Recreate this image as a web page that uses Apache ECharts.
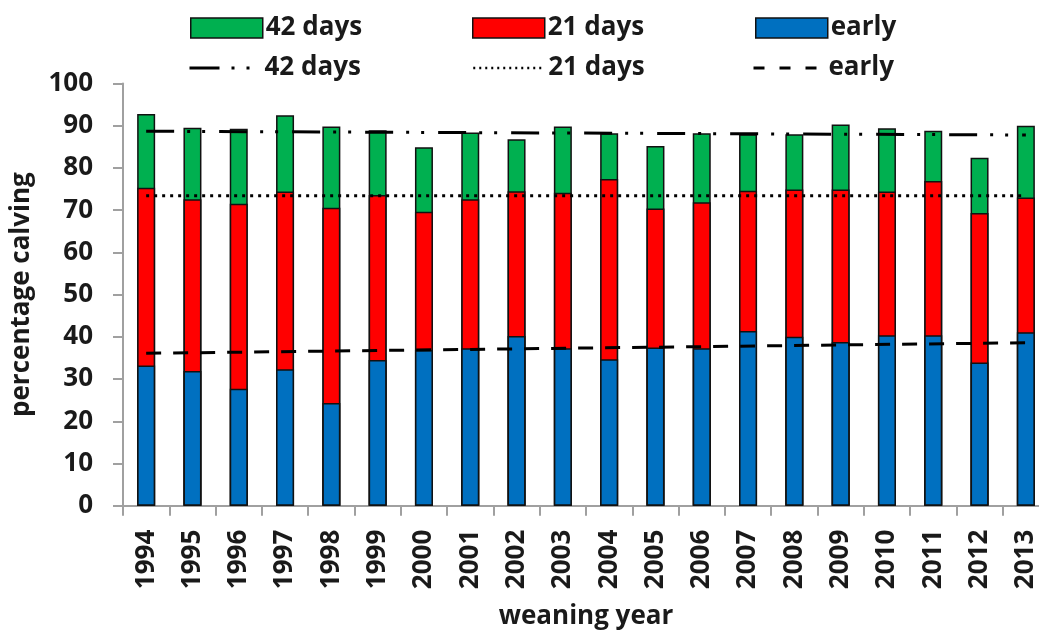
<!DOCTYPE html>
<html>
<head>
<meta charset="utf-8">
<script src="https://cdn.jsdelivr.net/npm/echarts@6/dist/echarts.min.js"></script>
<style>
html,body{margin:0;padding:0;background:#fff;}
#chart{width:1039px;height:631px;}
</style>
</head>
<body>
<div id="chart"></div>
<script>
// Categories (weaning year)
const years = ['1994','1995','1996','1997','1998','1999','2000','2001','2002','2003',
               '2004','2005','2006','2007','2008','2009','2010','2011','2012','2013'];
// Cumulative percentage calving
const early  = [33.2, 31.9, 27.7, 32.3, 24.3, 34.5, 36.9, 37.3, 40.2, 37.3, 34.7, 37.5, 37.3, 41.4, 40.0, 38.8, 40.4, 40.4, 33.9, 41.1];
const days21 = [75.3, 72.6, 71.5, 74.4, 70.6, 73.6, 69.6, 72.6, 74.5, 74.1, 77.4, 70.4, 71.9, 74.6, 74.9, 74.9, 74.4, 76.9, 69.3, 73.0];
const days42 = [92.8, 89.5, 89.3, 92.5, 89.8, 88.9, 84.9, 88.4, 86.8, 89.8, 88.2, 85.2, 88.2, 88.0, 88.0, 90.3, 89.4, 88.8, 82.4, 90.0];
// Linear trend lines: values at first and last year
const trend42    = [88.7, 87.8];
const trend21    = [73.4, 73.4];
const trendEarly = [36.1, 38.6];
const yTicks = [0, 100, 10];

function endpoints(pair) {
  const arr = years.map(() => null);
  arr[0] = pair[0];
  arr[arr.length - 1] = pair[1];
  return arr;
}

const FONT = 'Open Sans';
const txt = {fontFamily: FONT, fontWeight: 'bold', fontSize: 26, color: '#1a1a1a'};
const strip = n => n.replace(' trend', '');
const hiddenSym = {color: 'rgba(0,0,0,0)', borderWidth: 0, borderColor: 'rgba(0,0,0,0)'};

function leg(item, left, top) {
  return {
    left: left, top: top, orient: 'horizontal', itemWidth: 72, itemHeight: 20, itemGap: 0,
    padding: 0, textStyle: Object.assign({}, txt, {padding: [0, 0, 0, -2]}), formatter: strip,
    selectedMode: false, data: [item]
  };
}

const chart = echarts.init(document.getElementById('chart'));
chart.setOption({
  animation: false,
  backgroundColor: '#fff',
  grid: {left: 123, right: -10, top: 83.5, bottom: 125.3, containLabel: false, outerBoundsMode: 'none'},
  legend: [
    leg({name: '42 days', icon: 'rect', itemStyle: {borderColor: '#111', borderWidth: 1.5}}, 190, 15),
    leg({name: '21 days', icon: 'rect', itemStyle: {borderColor: '#111', borderWidth: 1.5}}, 472, 15),
    leg({name: 'early', icon: 'rect', itemStyle: {borderColor: '#111', borderWidth: 1.5}}, 755, 15),
    leg({name: '42 days trend', itemStyle: hiddenSym, lineStyle: {type: [30, 12, 3, 12, 3, 30], width: 3, color: '#000'}}, 188, 55),
    leg({name: '21 days trend', itemStyle: hiddenSym, lineStyle: {type: [2, 4], width: 2.5, color: '#000'}}, 472, 55),
    leg({name: 'early trend', itemStyle: hiddenSym, lineStyle: {type: [11, 15], width: 3, color: '#000'}}, 752, 55)
  ],
  xAxis: {
    type: 'category', data: years, boundaryGap: true,
    name: 'weaning year', nameLocation: 'middle', nameGap: 98,
    nameTextStyle: txt,
    axisLine: {lineStyle: {color: '#a0a0a0', width: 2}},
    axisTick: {show: true, alignWithLabel: false, length: 10, lineStyle: {color: '#a0a0a0', width: 2}},
    axisLabel: Object.assign({}, txt, {rotate: 90, interval: 0, margin: 24})
  },
  yAxis: {
    type: 'value', min: yTicks[0], max: yTicks[1], interval: yTicks[2],
    name: 'percentage calving', nameLocation: 'middle', nameGap: 88, nameRotate: 90,
    nameTextStyle: txt,
    axisLine: {show: true, lineStyle: {color: '#a0a0a0', width: 2}},
    axisTick: {show: true, length: 10, lineStyle: {color: '#a0a0a0', width: 2}},
    splitLine: {show: false},
    axisLabel: Object.assign({}, txt, {margin: 30, fontSize: 26})
  },
  series: [
    {name: '42 days', type: 'bar', data: days42, barWidth: 18, barGap: '-100%',
     itemStyle: {color: '#00b050', borderColor: '#111', borderWidth: 1.5}},
    {name: '21 days', type: 'bar', data: days21, barWidth: 18, barGap: '-100%',
     itemStyle: {color: '#ff0000', borderColor: '#111', borderWidth: 1.5}},
    {name: 'early', type: 'bar', data: early, barWidth: 18, barGap: '-100%',
     itemStyle: {color: '#0070c0', borderColor: '#111', borderWidth: 1.5}},
    {name: '42 days trend', type: 'line', data: endpoints(trend42), connectNulls: true, symbol: 'none', z: 5,
     lineStyle: {color: '#000', width: 3, type: [28, 13, 3, 12, 3, 14]}},
    {name: '21 days trend', type: 'line', data: endpoints(trend21), connectNulls: true, symbol: 'none', z: 5,
     lineStyle: {color: '#000', width: 3, type: [3, 5]}},
    {name: 'early trend', type: 'line', data: endpoints(trendEarly), connectNulls: true, symbol: 'none', z: 5,
     lineStyle: {color: '#000', width: 3, type: [15, 12]}}
  ]
});
</script>
</body>
</html>
